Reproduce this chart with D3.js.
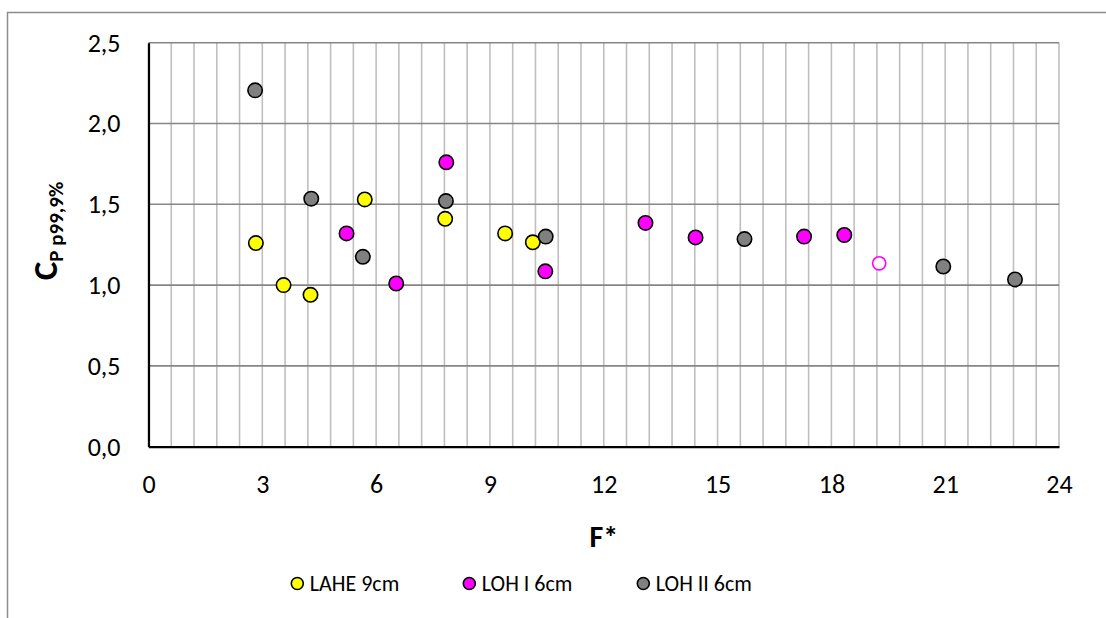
<!DOCTYPE html>
<html>
<head>
<meta charset="utf-8">
<script src="https://cdn.jsdelivr.net/npm/d3@7"></script>
<style>
  html, body { margin: 0; padding: 0; background: #fff; }
  svg { display: block; font-family: Carlito, Calibri, Lato, sans-serif; }
</style>
</head>
<body>
<svg id="chart" width="1106" height="618"></svg>
<script>
// Series: F* (x) and C_P p99,9% (y)
const laheF = [2.83, 3.56, 4.27, 5.70, 7.82, 9.40, 10.13];
const laheC = [1.26, 1.00, 0.94, 1.53, 1.41, 1.32, 1.265];

const loh1F = [5.22, 6.53, 7.85, 10.46, 13.10, 14.42, 17.28, 18.34];
const loh1C = [1.32, 1.01, 1.76, 1.085, 1.385, 1.295, 1.30, 1.31];

// LOH I point drawn with an open marker
const loh1OpenF = [19.26];
const loh1OpenC = [1.135];

const loh2F = [2.81, 4.29, 5.65, 7.84, 10.47, 15.71, 20.95, 22.84];
const loh2C = [2.205, 1.535, 1.175, 1.52, 1.30, 1.285, 1.115, 1.035];

const xTicks = [0, 3, 6, 9, 12, 15, 18, 21, 24];
const yTicks = [0, 0.5, 1.0, 1.5, 2.0, 2.5];
const seriesNames = ["LAHE 9cm", "LOH I 6cm", "LOH II 6cm"];
const seriesColors = ["#ffff00", "#ff00ff", "#808080"];

const svg = d3.select("#chart");
const plot = { left: 148.5, right: 1059, top: 42.7, bottom: 446.7 };

const x = d3.scaleLinear().domain([0, 24]).range([plot.left, plot.right]);
const y = d3.scaleLinear().domain([0, 2.5]).range([plot.bottom, plot.top]);

// Outer chart-area border (runs off the right and bottom edges)
svg.append("path")
  .attr("d", "M7.5,1000 L7.5,12.5 L1200,12.5")
  .attr("fill", "none").attr("stroke", "#8c8c8c").attr("stroke-width", 1.5);

// Minor vertical gridlines every 0.6
const minorX = d3.range(0, 24.0001, 0.6);
svg.append("g").selectAll("line").data(minorX).join("line")
  .attr("x1", d => x(d)).attr("x2", d => x(d))
  .attr("y1", plot.top).attr("y2", plot.bottom)
  .attr("stroke", "#bfbfbf").attr("stroke-width", 1.6);

// Horizontal major gridlines
svg.append("g").selectAll("line").data(yTicks.filter(d => d > 0)).join("line")
  .attr("x1", plot.left).attr("x2", plot.right)
  .attr("y1", d => y(d)).attr("y2", d => y(d))
  .attr("stroke", "#868686").attr("stroke-width", 1.6);

// Axes
const fmt = d => d3.format(".1f")(d).replace(".", ",");
const yAxis = svg.append("g").attr("transform", `translate(${plot.left},0)`)
  .call(d3.axisLeft(y).tickValues(yTicks).tickSize(0).tickPadding(28).tickFormat(fmt));
const xAxis = svg.append("g").attr("transform", `translate(0,${plot.bottom})`)
  .call(d3.axisBottom(x).tickValues(xTicks).tickSize(0).tickPadding(28).tickFormat(d3.format("d")));
[yAxis, xAxis].forEach(g => {
  g.select(".domain").attr("stroke", "#000").attr("stroke-width", 2.2);
  g.selectAll("text").attr("font-family", "Carlito, Calibri, Lato, sans-serif")
    .attr("font-size", 26).attr("fill", "#000");
});

// Axis titles
svg.append("text")
  .attr("x", (plot.left + plot.right) / 2).attr("y", 547)
  .attr("text-anchor", "middle").attr("font-size", 30).attr("font-weight", "bold")
  .text("F*");

const yt = svg.append("text")
  .attr("transform", "translate(57,231) rotate(-90)")
  .attr("text-anchor", "middle").attr("font-weight", "bold");
yt.append("tspan").attr("font-size", 35).text("C");
yt.append("tspan").attr("font-size", 21).attr("dy", 6).text("P p99,9%");

// Markers
const series = [
  { f: laheF, c: laheC, color: seriesColors[0] },
  { f: loh1F, c: loh1C, color: seriesColors[1] },
  { f: loh2F, c: loh2C, color: seriesColors[2] }
];
series.forEach(s => {
  svg.append("g").selectAll("circle").data(d3.zip(s.f, s.c)).join("circle")
    .attr("cx", d => x(d[0])).attr("cy", d => y(d[1])).attr("r", 7.2)
    .attr("fill", s.color).attr("stroke", "#000").attr("stroke-width", 1.6);
});
svg.append("g").selectAll("circle").data(d3.zip(loh1OpenF, loh1OpenC)).join("circle")
  .attr("cx", d => x(d[0])).attr("cy", d => y(d[1])).attr("r", 6.6)
  .attr("fill", "#fff").attr("stroke", seriesColors[1]).attr("stroke-width", 1.6);

// Legend
const legendX = [297.3, 469.3, 643.3];
const legend = svg.append("g").selectAll("g").data(seriesNames).join("g")
  .attr("transform", (d, i) => `translate(${legendX[i]},583.5)`);
legend.append("circle").attr("r", 6)
  .attr("fill", (d, i) => seriesColors[i]).attr("stroke", "#000").attr("stroke-width", 1.6);
legend.append("text").attr("x", 12.5).attr("dy", "0.35em")
  .attr("font-size", 22).text(d => d);
</script>
</body>
</html>
